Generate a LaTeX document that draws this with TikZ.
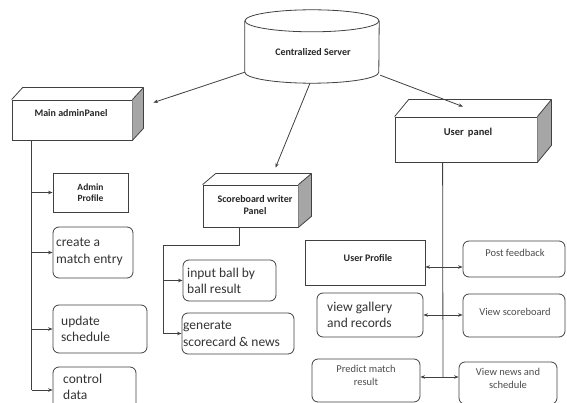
\documentclass[tikz,border=0pt]{standalone}
\usepackage{fontspec}
\setmainfont{Carlito}
\usetikzlibrary{arrows.meta,calc}
\tikzset{
  ln/.style={draw=black!75, line width=0.8pt},
  arr/.style={ln, -{Stealth[length=4.5pt,width=3.5pt]}},
  barr/.style={ln, {Stealth[length=4.5pt,width=3.5pt]}-{Stealth[length=4.5pt,width=3.5pt]}},
  face/.style={draw=black!75, line width=0.8pt, fill=white, inner sep=0pt},
  sqbox/.style={draw=black!75, line width=0.8pt, inner sep=0pt},
  rbox/.style={draw=black!75, line width=0.8pt, rounded corners=6pt, inner sep=0pt},
  big/.style={font=\fontsize{13.5}{16.5}\selectfont, text=black!80, align=left, anchor=west, inner sep=0pt},
  small/.style={font=\fontsize{10.5}{13}\selectfont, text=black!70, align=center, inner sep=0pt},
  bsmall/.style={font=\bfseries\fontsize{9.5}{11.5}\selectfont, text=black!85, align=center, inner sep=0pt},
}
\newcommand{\panelbox}[3]{% name, dx, dy
  \fill[black!35] (#1.north east) -- ++(#2,-#3) -- ($(#1.south east)+(#2,-#3)$) -- (#1.south east) -- cycle;
  \draw[ln, line join=round] (#1.north west) -- ++(#2,-#3) -- ($(#1.north east)+(#2,-#3)$) -- (#1.north east);
  \draw[ln, line join=round] ($(#1.north east)+(#2,-#3)$) -- ($(#1.south east)+(#2,-#3)$) -- (#1.south east);
}
\begin{document}
\begin{tikzpicture}[x=1pt,y=-1pt]
\useasboundingbox (0,0) rectangle (567,403);

% Centralized server (cylinder)
\node[minimum width=134pt, minimum height=73pt, inner sep=0pt] (srv) at (312,46.5) {};
\draw[ln] ($(srv.north)+(0,11)$) ellipse [x radius=67, y radius=11];
\draw[ln] ($(srv.north west)+(0,11)$) -- ($(srv.south west)+(0,-11)$)
  arc[start angle=180, end angle=0, x radius=67, y radius=11]
  -- ($(srv.north east)+(0,11)$);
\node[bsmall, font=\bfseries\fontsize{10}{12}\selectfont] (srvT) at (313,52) {Centralized Server};

% Panels
\node[face, minimum width=120pt, minimum height=40pt] (mainP) at (72,120) {};
\panelbox{mainP}{11}{12}
\node[bsmall, font=\bfseries\fontsize{10}{12}\selectfont] (mainT) at (71,113) {Main adminPanel};

\node[face, minimum width=95pt, minimum height=42pt] (scoreP) at (250.5,206) {};
\panelbox{scoreP}{13}{11}
\node[bsmall, font=\bfseries\fontsize{10}{12}\selectfont] (scoreT) at (255,205) {Scoreboard writer\\Panel};

\node[face, minimum width=142pt, minimum height=45pt] (userP) at (466,139.5) {};
\panelbox{userP}{14}{17}
\node[bsmall, font=\bfseries\fontsize{10.5}{12}\selectfont] (userT) at (468,133) {User\, panel};

% Arrows from server
\draw[arr] ($(srv.south west)+(0,-11)$) -- ($(mainP.north east)+(21,3)$);
\draw[arr] ($(srv.south)+(-2,0)$) -- ($(scoreP.north)+(25,-17)$);
\draw[arr] ($(srv.south east)+(1,-8)$) -- ($(userP.north)+(-3,-10)$);

% Admin side boxes
\node[sqbox, minimum width=75pt, minimum height=39pt] (adminProfile) at (90.5,192.5) {};
\node[bsmall] (adminProfileT) at (adminProfile) {Admin\\Profile};
\node[rbox, minimum width=80pt, minimum height=51pt] (create) at (93,252.5) {};
\node[big] (createT) at (56,252) {create a\\match entry};
\node[rbox, minimum width=94pt, minimum height=48pt] (update) at (100,329) {};
\node[big] (updateT) at (61,329) {update\\schedule};
\node[rbox, minimum width=83pt, minimum height=46pt] (control) at (94.5,390) {};
\node[big] (controlT) at (63,387) {control\\data};

\coordinate (ma) at ($(mainP.south west)+(20,0)$);
\draw[ln] (ma) -- (ma |- control.west);
\draw[arr] (ma |- adminProfile.west) -- (adminProfile.west);
\draw[arr] (ma |- create.west) -- (create.west);
\draw[arr] (ma |- update.west) -- (update.west);
\draw[arr] (ma |- control.west) -- (control.west);

% Scoreboard side boxes
\node[rbox, minimum width=93pt, minimum height=41pt] (input) at (229.5,280.5) {};
\node[big] (inputT) at (187,281) {input ball by\\ball result};
\node[rbox, minimum width=112pt, minimum height=41pt] (generate) at (238,333.5) {};
\node[big] (generateT) at (183,334) {generate\\scorecard \& news};

\coordinate (sb) at ($(scoreP.south west)+(37,0)$);
\coordinate (sbx) at (163,245);
\draw[ln] (sb) |- (sbx);
\draw[arr] (sbx) |- (generate.west);
\draw[arr] (sbx |- input.west) -- (input.west);

% User side boxes
\node[sqbox, minimum width=120pt, minimum height=45pt] (userProfile) at (365,262.5) {};
\node[bsmall, font=\bfseries\fontsize{10}{12}\selectfont] (userProfileT) at (368,258) {User Profile};
\node[rbox, minimum width=102pt, minimum height=36pt] (postFeedback) at (514,259) {};
\node[small] (postFeedbackT) at (515,253) {Post feedback};
\node[rbox, minimum width=106pt, minimum height=44pt] (viewGallery) at (370,315) {};
\node[big] (viewGalleryT) at (327,315) {view gallery\\and records};
\node[rbox, minimum width=102pt, minimum height=43pt] (viewScoreboard) at (514,315.5) {};
\node[small] (viewScoreboardT) at (515,312) {View scoreboard};
\node[rbox, minimum width=108pt, minimum height=43pt] (predict) at (366,380.5) {};
\node[small] (predictT) at (366,375) {Predict match\\result};
\node[rbox, minimum width=98pt, minimum height=42pt] (viewNews) at (508,383) {};
\node[small] (viewNewsT) at (508,378) {View news and\\schedule};

\coordinate (up) at ($(userP.south west)+(48,0)$);
\coordinate (h1) at (443,267);
\coordinate (h2) at (443,315);
\coordinate (h3) at (443,377);
\draw[ln] (up) -- (h3);
\draw[barr] (h1 -| userProfile.east) -- (h1 -| postFeedback.west);
\draw[barr] (h2 -| viewGallery.east) -- (h2 -| viewScoreboard.west);
\draw[barr] (h3 -| predict.east) -- (h3 -| viewNews.west);
\end{tikzpicture}
\end{document}
